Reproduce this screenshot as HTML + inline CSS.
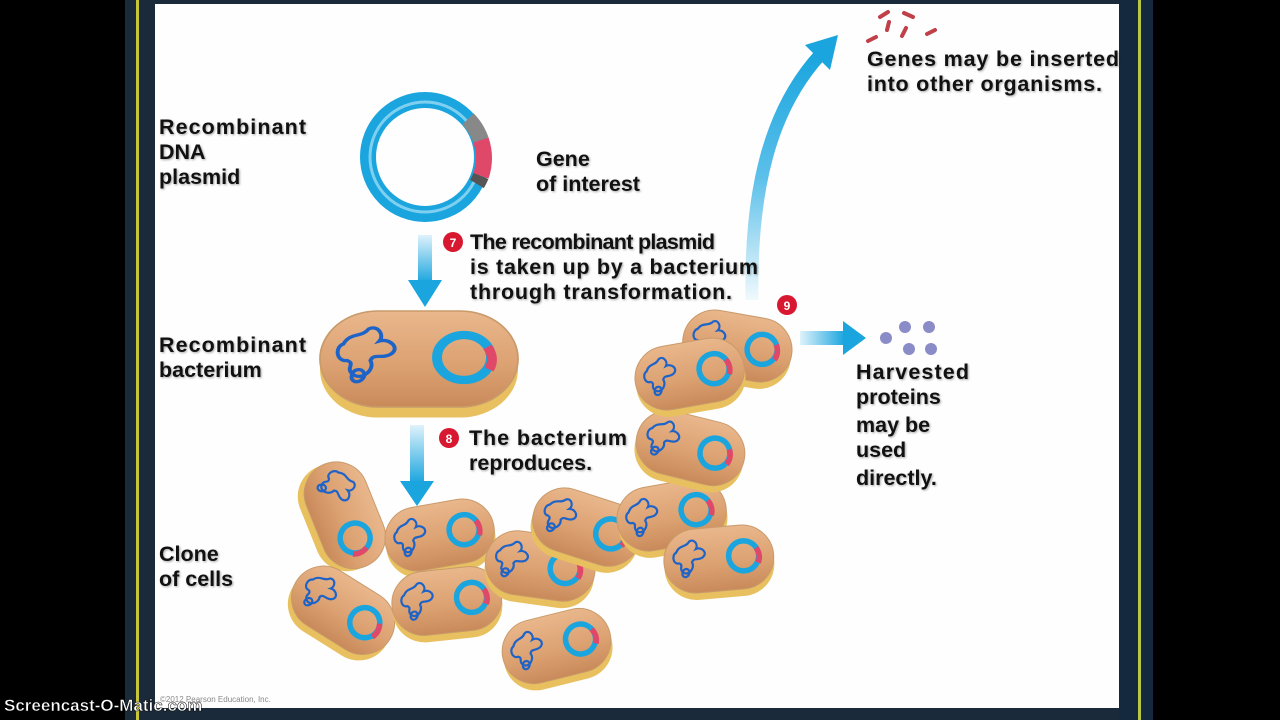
<!DOCTYPE html>
<html><head><meta charset="utf-8"><style>
html,body{margin:0;padding:0;width:1280px;height:720px;background:#000;overflow:hidden}
svg{display:block}
text{font-family:"Liberation Sans",sans-serif;font-weight:bold;font-size:21.5px;fill:#111;}
.t{filter:drop-shadow(1px 1px 1px rgba(0,0,0,0.35))}
</style></head><body>
<svg width="1280" height="720" viewBox="0 0 1280 720" xmlns="http://www.w3.org/2000/svg">
<defs>
<linearGradient id="body" x1="0" y1="0" x2="0" y2="1">
<stop offset="0" stop-color="#e9b78c"/><stop offset="0.6" stop-color="#dba070"/><stop offset="1" stop-color="#c98a5a"/>
</linearGradient>
<linearGradient id="arrV" x1="0" y1="0" x2="0" y2="1">
<stop offset="0" stop-color="#dff2fb"/><stop offset="1" stop-color="#1aa5de"/>
</linearGradient>
<linearGradient id="arrH" x1="0" y1="0" x2="1" y2="0">
<stop offset="0" stop-color="#dff2fb"/><stop offset="1" stop-color="#1aa5de"/>
</linearGradient>
<linearGradient id="arrU" x1="0" y1="1" x2="0" y2="0">
<stop offset="0" stop-color="#f0f9fd"/><stop offset="0.5" stop-color="#5cc0ea"/><stop offset="1" stop-color="#1aa5de"/>
</linearGradient>
<g id="cell">
<rect x="-55" y="-27" width="110" height="64" rx="32" fill="#e8c060"/>
<rect x="-55" y="-34" width="110" height="64" rx="32" fill="url(#body)" stroke="#c99a6a" stroke-width="1"/>
<path d="M-42,-12 c4,-8 10,-4 14,-10 c5,-3 9,4 6,8 c6,-2 12,5 6,9 c-5,3 -9,-1 -11,4 c3,6 -5,14 -10,9 c-4,-4 2,-7 -3,-9 c-6,1 -7,-9 -2,-11z M-36,6 c4,-3 8,2 4,6 c-3,3 -8,0 -4,-6z" fill="none" stroke="#1e63c8" stroke-width="2.2"/>
<circle cx="25" cy="-3" r="15" fill="none" stroke="#1aa5de" stroke-width="5.5"/>
<path d="M38,-10 A15,15 0 0 1 39,5" fill="none" stroke="#e0486a" stroke-width="5.5"/>
</g>
</defs>
<rect x="0" y="0" width="1280" height="720" fill="#000"/>
<rect x="125" y="0" width="28" height="720" fill="#1a2a3a"/>
<rect x="136" y="0" width="3" height="720" fill="#c8c43a"/>
<rect x="1119" y="0" width="34" height="720" fill="#14283e"/>
<rect x="1138" y="0" width="3" height="720" fill="#b8c840"/>
<rect x="153" y="0" width="966" height="720" fill="#1a2a3a"/>
<rect x="155" y="4" width="964" height="704" fill="#fefefe"/>

<!-- plasmid -->
<circle cx="425" cy="157" r="57" fill="none" stroke="#1aa5de" stroke-width="16"/>
<circle cx="425" cy="157" r="55" fill="none" stroke="#7fd0f0" stroke-width="3"/>
<path d="M468,119 A57,57 0 0 1 481,140" fill="none" stroke="#888" stroke-width="16"/>
<path d="M481,140 A57,57 0 0 1 481,176" fill="none" stroke="#e0486a" stroke-width="16"/>
<path d="M481,176 A57,57 0 0 1 477,184" fill="none" stroke="#555" stroke-width="16"/>

<rect x="418" y="235" width="14" height="48" fill="url(#arrV)"/>
<polygon points="408,280 442,280 425,307" fill="#1aa5de"/>
<rect x="410" y="425" width="14" height="58" fill="url(#arrV)"/>
<polygon points="400,481 434,481 417,506" fill="#1aa5de"/>
<rect x="800" y="331" width="45" height="14" fill="url(#arrH)"/>
<polygon points="843,321 843,355 866,338" fill="#1aa5de"/>
<path d="M752,300 C750,190 770,110 820,55" fill="none" stroke="url(#arrU)" stroke-width="13"/>
<polygon points="805,45 838,35 830,70" fill="#1aa5de"/>

<g transform="translate(419,362) scale(1.8,1.5)"><use href="#cell"/></g>

<g transform="translate(343,516) rotate(68)"><use href="#cell"/></g>
<g transform="translate(440,537) rotate(-10)"><use href="#cell"/></g>
<g transform="translate(342,612) rotate(32)"><use href="#cell"/></g>
<g transform="translate(447,603) rotate(-6)"><use href="#cell"/></g>
<g transform="translate(540,568) rotate(8)"><use href="#cell"/></g>
<g transform="translate(586,529) rotate(18)"><use href="#cell"/></g>
<g transform="translate(557,648) rotate(-14)"><use href="#cell"/></g>
<g transform="translate(672,517) rotate(-10)"><use href="#cell"/></g>
<g transform="translate(719,561) rotate(-5)"><use href="#cell"/></g>
<g transform="translate(690,450) rotate(14)"><use href="#cell"/></g>
<g transform="translate(737,348) rotate(10)"><use href="#cell"/></g>
<g transform="translate(690,376) rotate(-10)"><use href="#cell"/></g>

<g fill="#8a8cc8">
<circle cx="886" cy="338" r="6"/><circle cx="905" cy="327" r="6"/><circle cx="929" cy="327" r="6"/>
<circle cx="909" cy="349" r="6"/><circle cx="931" cy="349" r="6"/>
</g>
<g stroke="#c0404a" stroke-width="4" stroke-linecap="round">
<line x1="868" y1="41" x2="876" y2="37"/><line x1="880" y1="17" x2="888" y2="12"/>
<line x1="889" y1="22" x2="887" y2="30"/><line x1="904" y1="13" x2="913" y2="17"/>
<line x1="906" y1="28" x2="902" y2="36"/><line x1="927" y1="34" x2="935" y2="30"/>
</g>

<circle cx="453" cy="242" r="10" fill="#d81830"/><text x="453" y="247" text-anchor="middle" style="fill:#fff;font-size:12px">7</text>
<circle cx="449" cy="438" r="10" fill="#d81830"/><text x="449" y="443" text-anchor="middle" style="fill:#fff;font-size:12px">8</text>
<circle cx="787" cy="305" r="10" fill="#d81830"/><text x="787" y="310" text-anchor="middle" style="fill:#fff;font-size:12px">9</text>

<g class="t">
<text x="159" y="134" textLength="147">Recombinant</text><text x="159" y="159">DNA</text><text x="159" y="184">plasmid</text>
<text x="536" y="166">Gene</text><text x="536" y="191">of interest</text>
<text x="470" y="249" textLength="245">The recombinant plasmid</text><text x="470" y="274" textLength="288">is taken up by a bacterium</text><text x="470" y="299" textLength="262">through transformation.</text>
<text x="159" y="352" textLength="147">Recombinant</text><text x="159" y="377">bacterium</text>
<text x="469" y="445" textLength="158">The bacterium</text><text x="469" y="470">reproduces.</text>
<text x="159" y="561">Clone</text><text x="159" y="586">of cells</text>
<text x="867" y="66" textLength="252">Genes may be inserted</text><text x="867" y="91" textLength="235">into other organisms.</text>
<text x="856" y="379" textLength="113">Harvested</text><text x="856" y="404">proteins</text><text x="856" y="432">may be</text><text x="856" y="457">used</text><text x="856" y="485">directly.</text>
</g>
<text x="160" y="702" style="font-size:8px;font-weight:normal;fill:#888">©2012 Pearson Education, Inc.</text>
<text x="4" y="711" style="fill:#fff;font-size:17px;stroke:#000;stroke-width:0.5">Screencast-O-Matic.com</text>
</svg>
</body></html>
